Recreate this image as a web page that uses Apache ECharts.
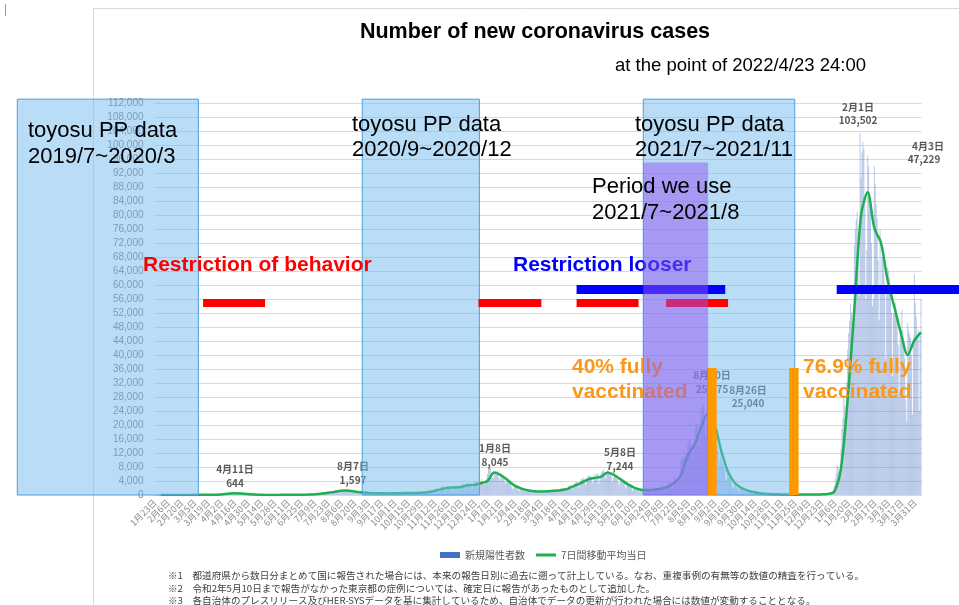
<!DOCTYPE html>
<html>
<head>
<meta charset="utf-8">
<script src="https://cdn.jsdelivr.net/npm/echarts@6/dist/echarts.min.js"></script>
<style>
  html, body { margin: 0; padding: 0; background: #fff; }
  #main { width: 959px; height: 605px; }
</style>
</head>
<body>
<div id="main"></div>
<script>
  // 新規陽性者数（日別）2020/1/23(木)から。1行 = 木〜水の1週間
  var dailyCases = [
    1,0,1,0,2,1,1,
    3,2,1,2,0,2,4,
    1,3,2,0,1,3,4,
    4,8,10,6,5,9,8,
    14,11,15,10,8,13,15,
    22,19,24,18,15,19,25,
    33,57,43,41,21,38,52,
    44,53,38,36,15,44,39,
    40,51,54,38,39,65,96,
    98,123,200,173,87,194,266,
    235,351,368,352,250,352,501,
    575,597,644,553,352,387,549,
    572,548,569,366,335,354,452,
    422,361,294,250,146,218,278,
    176,275,191,204,87,109,112,
    94,82,100,71,48,38,63,
    60,43,24,14,27,15,38,
    28,20,45,15,14,26,36,
    35,36,35,46,38,52,40,
    41,39,46,34,27,38,49,
    55,67,58,55,42,37,40,
    69,58,63,59,40,104,103,
    117,115,133,131,103,132,196,
    196,224,249,231,132,198,364,
    381,428,412,273,168,329,530,
    629,779,666,426,342,570,897,
    954,813,888,725,563,880,1227,
    1264,1516,1354,1268,900,976,1356,
    1450,1597,1563,1200,800,1100,1300,
    1177,1227,1021,925,615,900,1200,
    1043,912,851,747,495,690,816,
    766,727,764,621,435,493,603,
    585,630,547,455,325,486,526,
    643,555,561,443,268,480,550,
    539,528,589,418,294,262,447,
    523,637,658,437,303,472,502,
    618,584,571,478,288,506,630,
    693,626,693,512,332,587,572,
    634,628,611,430,326,531,631,
    741,724,755,635,432,567,650,
    769,849,1009,885,484,644,1003,
    1133,1201,1276,1063,709,1186,1525,
    1662,1737,1676,1430,944,1681,2179,
    2406,2418,2510,2118,1246,1520,2061,
    2501,2440,2442,2025,1291,2039,2418,
    2508,2439,2499,2010,1519,2160,2774,
    2982,3000,3032,2393,1676,2988,3211,
    3234,3034,2983,2498,1807,3050,3611,
    3740,3823,3881,3209,1843,3056,3854,
    4520,3130,3058,3129,3324,4887,6001,
    7538,8045,7790,6094,4875,4925,5874,
    6605,6016,6979,5671,4924,4114,5526,
    5540,4747,4710,3989,3129,3853,3968,
    3874,3478,3347,2670,1792,1871,2331,
    2471,2366,2239,1707,1278,1570,1710,
    1614,1577,1359,1309,1089,1047,1530,
    1272,1086,1328,1079,725,1041,1130,
    1097,1222,1041,991,532,945,1130,
    1189,1164,1050,1064,601,982,1308,
    1292,1259,1287,1062,780,1115,1506,
    1467,1423,1452,1110,819,1510,1877,
    2031,1922,1986,1783,1008,1545,2078,
    2598,2754,2765,2471,1575,2660,3453,
    3447,3688,3696,2979,2120,3457,4564,
    4576,4532,5120,4118,2884,4328,5283,
    5592,5114,5606,4615,3312,4025,5876,
    4678,5921,6054,5993,3127,4352,6054,
    6573,6991,7244,6468,4674,6049,7057,
    6848,6294,6493,5437,3664,5022,6055,
    5754,5228,4997,3955,2816,3650,4428,
    4104,3724,3366,3077,1766,2643,3031,
    2767,2623,2470,2003,1233,1659,2180,
    1922,1725,1714,1384,920,1188,1617,
    1686,1585,1605,1231,772,1421,1809,
    1727,1593,1794,1359,797,1528,1955,
    2183,2047,1886,1567,906,1829,2191,
    2566,2451,2436,1978,1257,2377,3194,
    3421,3546,3618,3058,1871,3758,5392,
    5018,4225,3574,4692,4689,7629,9575,
    10699,10743,12340,10168,8392,12016,14207,
    15263,15812,15753,14472,12076,10182,15812,
    18889,20366,20151,17475,14030,19955,23917,
    25156,25975,25492,22298,17513,21570,24301,
    25040,24939,22743,19766,13631,16759,20030,
    16752,16066,14175,12929,8231,10388,12383,
    9376,8787,8099,7213,4172,4166,6188,
    5077,5389,4632,3577,2224,1868,2839,
    3264,2132,1914,1900,1128,2137,2001,
    1987,1580,1443,1150,625,966,1247,
    1116,957,847,809,384,500,739,
    620,509,510,428,253,372,386,
    345,326,303,264,154,229,292,
    277,267,269,219,86,156,217,
    158,242,227,162,105,153,198,
    196,161,173,133,74,117,130,
    127,141,106,92,50,110,77,
    108,118,164,107,64,88,121,
    145,129,122,131,70,101,119,
    152,160,149,119,101,145,190,
    180,154,157,142,119,183,252,
    262,300,268,240,218,383,502,
    561,456,555,534,782,1266,2638,
    4475,6214,8476,8249,6438,6378,13244,
    18859,22045,28481,25665,22202,32175,41483,
    46180,49854,54572,52147,42617,53658,71511,
    75914,78787,80906,72095,56798,103502,90798,
    97780,100849,98850,84936,55997,70000,97000,
    94000,83000,81000,72000,54000,56000,94000,
    89000,83000,79000,67000,50000,76000,60000,
    68000,71000,68000,60000,39000,58000,65000,
    64000,62000,60000,52000,34000,52000,52000,
    55000,53000,50000,43000,29000,46000,47000,
    53000,47000,44000,39000,27000,21000,49000,
    47000,46000,45000,40000,23000,45000,63000,
    55000,51000,46000,47229,24000,46000,56000
  ];

  // 7日間移動平均（各週の水曜日時点の値）
  var avg7Weekly = [
    1,2,2,7,12,20,41,38,55,163,
    344,522,457,281,165,71,32,26,40,39,
    51,71,132,228,360,616,864,1233,1287,1009,
    793,630,508,500,440,505,525,574,542,643,
    806,1156,1616,2040,2165,2273,2755,2888,3344,4007,
    6449,5691,4277,2766,1906,1361,1094,994,1051,1186,
    1380,1765,2611,3422,4406,4877,5168,6437,5688,4404,
    3102,2134,1496,1444,1536,1801,2323,3523,5629,11224,
    14196,19255,23186,20415,12989,6857,3658,2068,1285,765,
    440,273,213,178,141,100,110,117,145,170,
    310,970,7639,27273,52934,79829,86487,76286,72000,61286,
    53714,46143,40000,44143,46461
  ];

  // y軸目盛
  var yMax = 112000, yStep = 4000;

  // 注記の期間（開始日, 終了日）
  var ppDataPeriods = [['2019-09-01', '2020-03-08'], ['2020-08-28', '2020-12-28'], ['2021-06-19', '2021-11-24']];
  var usePeriod = ['2021-06-19', '2021-08-25'];
  var usePeriodTop = 95000;
  var restrictPeriods = [['2020-03-14', '2020-05-17'], ['2020-12-28', '2021-03-03'], ['2021-04-10', '2021-06-13'], ['2021-07-13', '2021-09-15']];
  var restrictLevel = [53700, 56000];
  var looserPeriods = [['2021-04-10', '2021-09-12'], ['2022-01-08', '2022-05-16']];
  var looserLevel = [57400, 60000];
  var vaccinePeriods = [['2021-08-25', '2021-09-03'], ['2021-11-19', '2021-11-28']];
  var vaccineTop = 36300;

  var startUTC = Date.UTC(2020, 0, 23);
  var N = dailyCases.length;
  var dates = [];
  for (var i = 0; i < N; i++) {
    var d = new Date(startUTC + i * 864e5);
    dates.push((d.getUTCMonth() + 1) + '月' + d.getUTCDate() + '日');
  }
  var avgLine = [];
  for (var i = 0; i < N; i++) avgLine.push(null);
  avg7Weekly.forEach(function (v, w) { avgLine[w * 7 + 6] = v; });

  function dayIdx(s) {
    var p = s.split('-');
    return (Date.UTC(+p[0], +p[1] - 1, +p[2]) - startUTC) / 864e5;
  }

  var chart = echarts.init(document.getElementById('main'));
  var option = {
    animation: false,
    backgroundColor: '#fff',
    textStyle: { fontFamily: '"Liberation Sans", "Noto Sans CJK JP", sans-serif' },
    grid: { left: 154.5, right: 37.5, top: 103, bottom: 110 },
    legend: {
      left: 435, top: 545,
      itemWidth: 20, itemHeight: 6, itemGap: 11,
      textStyle: { fontSize: 10, color: '#595959', fontFamily: '"Noto Sans CJK JP"' },
      data: [
        { name: '新規陽性者数', icon: 'rect', itemStyle: { color: '#4472c4', opacity: 1 } },
        { name: '7日間移動平均当日', icon: 'path://M0,0h20v3h-20z', itemStyle: { color: '#1fae50' } }
      ]
    },
    xAxis: {
      type: 'category',
      data: dates,
      boundaryGap: true,
      axisTick: { show: false },
      axisLine: { lineStyle: { color: '#d9d9d9' } },
      axisLabel: { interval: 13, rotate: 45, fontSize: 9, color: '#8c8c8c', margin: 6, fontFamily: '"Noto Sans CJK JP"' }
    },
    yAxis: {
      type: 'value',
      min: 0, max: yMax, interval: yStep,
      axisLine: { show: false },
      axisTick: { show: false },
      axisLabel: {
        fontSize: 10, color: '#7f7f7f', margin: 11,
        formatter: function (v) { return String(v).replace(/\B(?=(\d{3})+(?!\d))/g, ','); }
      },
      splitLine: { lineStyle: { color: '#d9d9d9' } }
    },
    series: [
      {
        name: '新規陽性者数', type: 'bar', data: dailyCases,
        barCategoryGap: '10%',
        itemStyle: { color: 'rgba(68,114,196,0.36)' }
      },
      {
        name: '7日間移動平均当日', type: 'line', data: avgLine,
        connectNulls: true, smooth: 0.3, symbol: 'none',
        lineStyle: { color: '#1fae50', width: 2.5 },
        itemStyle: { color: '#1fae50' }
      }
    ]
  };
  chart.setOption(option);

  // 注記の図形を軸の座標に合わせて配置
  var x0 = chart.convertToPixel({ xAxisIndex: 0 }, 0);
  var x1 = chart.convertToPixel({ xAxisIndex: 0 }, N - 1);
  var yb = chart.convertToPixel({ yAxisIndex: 0 }, 0);
  var yt = chart.convertToPixel({ yAxisIndex: 0 }, yMax);
  var half = (x1 - x0) / (N - 1) / 2;
  function px(i) { return x0 + (x1 - x0) * i / (N - 1); }
  function py(v) { return yb + (yt - yb) * v / yMax; }
  function spanRect(range, lo, hi, style, z) {
    var l = px(dayIdx(range[0])) - half, r = px(dayIdx(range[1])) + half;
    return { type: 'rect', z: z, shape: { x: l, y: py(hi), width: r - l, height: py(lo) - py(hi) }, style: style };
  }
  function txt(s, x, y, font, fill, z, align) {
    return { type: 'text', z: z, x: x, y: y, style: { text: s, font: font, fill: fill, align: align || 'left', verticalAlign: 'middle' } };
  }

  var els = [];
  var jp = '"Noto Sans CJK JP"';
  var sans = '"Liberation Sans"';

  // 枠
  els.push({ type: 'rect', z: 1, shape: { x: 93.5, y: 8.5, width: 900, height: 640 }, style: { fill: 'none', stroke: '#d9d9d9', lineWidth: 1 } });
  els.push({ type: 'line', z: 1, shape: { x1: 5.5, y1: 4, x2: 5.5, y2: 16 }, style: { stroke: '#9a9a9a', lineWidth: 1 } });

  // タイトル
  els.push(txt('Number of new coronavirus cases', 535, 32, 'bold 21.5px ' + sans, '#000', 20, 'center'));
  els.push(txt('at the point of 2022/4/23 24:00', 866, 66, '18.5px ' + sans, '#000', 20, 'right'));

  // ピークの値
  var pk = 'bold 10px ' + jp, pkc = '#595959';
  [['4月11日', 235, 469], ['644', 235, 483], ['8月7日', 353, 466], ['1,597', 353, 480],
   ['1月8日', 495, 448], ['8,045', 495, 462], ['5月8日', 620, 452], ['7,244', 620, 466],
   ['8月20日', 712, 375], ['25,975', 712, 389], ['8月26日', 748, 390], ['25,040', 748, 403],
   ['2月1日', 858, 107], ['103,502', 858, 120], ['4月3日', 928, 146], ['47,229', 924, 159]
  ].forEach(function (t) { els.push(txt(t[0], t[1], t[2], pk, pkc, 5, 'center')); });

  // toyosu PP data の期間
  var boxStyle = { fill: 'rgba(115,185,240,0.5)', stroke: '#4a9fe0', lineWidth: 1 };
  ppDataPeriods.forEach(function (r) { els.push(spanRect(r, 0, 113100, boxStyle, 10)); });

  // 行動制限・緩和
  restrictPeriods.forEach(function (r) { els.push(spanRect(r, restrictLevel[0], restrictLevel[1], { fill: '#ff0000' }, 11)); });
  looserPeriods.forEach(function (r) { els.push(spanRect(r, looserLevel[0], looserLevel[1], { fill: '#0000ff' }, 11)); });
  vaccinePeriods.forEach(function (r) { els.push(spanRect(r, 0, vaccineTop, { fill: '#ff9900' }, 11)); });

  var big = 'bold 21px ' + sans;
  els.push(txt('Restriction of behavior', 143, 265, big, '#ff0000', 11));
  els.push(txt('Restriction looser', 513, 265, big, '#0000ff', 11));
  els.push(txt('40% fully', 572, 367, big, '#f8981d', 11));
  els.push(txt('vacctinated', 572, 392, big, '#f8981d', 11));
  els.push(txt('76.9% fully', 803, 367, big, '#f8981d', 11));
  els.push(txt('vaccinated', 803, 392, big, '#f8981d', 11));

  // 使用期間
  els.push(spanRect(usePeriod, 0, usePeriodTop, { fill: 'rgba(145,85,240,0.5)' }, 12));

  var note = '22px ' + sans;
  els.push(txt('toyosu PP data', 28, 131, note, '#000', 13));
  els.push(txt('2019/7~2020/3', 28, 157, note, '#000', 13));
  els.push(txt('toyosu PP data', 352, 125, note, '#000', 13));
  els.push(txt('2020/9~2020/12', 352, 150, note, '#000', 13));
  els.push(txt('toyosu PP data', 635, 125, note, '#000', 13));
  els.push(txt('2021/7~2021/11', 635, 150, note, '#000', 13));
  els.push(txt('Period we use', 592, 187, note, '#000', 13));
  els.push(txt('2021/7~2021/8', 592, 213, note, '#000', 13));

  // 注記
  var fn = '9.6px ' + jp, fnc = '#404040';
  els.push(txt('※1　都道府県から数日分まとめて国に報告された場合には、本来の報告日別に過去に遡って計上している。なお、重複事例の有無等の数値の精査を行っている。', 168, 575, fn, fnc, 20));
  els.push(txt('※2　令和2年5月10日まで報告がなかった東京都の症例については、確定日に報告があったものとして追加した。', 168, 588, fn, fnc, 20));
  els.push(txt('※3　各自治体のプレスリリース及びHER-SYSデータを基に集計しているため、自治体でデータの更新が行われた場合には数値が変動することとなる。', 168, 600, fn, fnc, 20));

  chart.setOption({ graphic: { elements: els } });
</script>
</body>
</html>
